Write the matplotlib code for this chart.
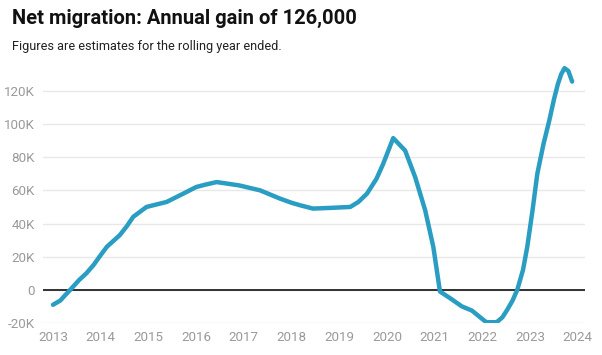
import numpy as np
import matplotlib.pyplot as plt

# rolling-year net migration (thousands)
years = [2013.0, 2013.15, 2013.36, 2013.55, 2013.7, 2013.85, 2014.0, 2014.13, 2014.4,
         2014.55, 2014.68, 2014.96, 2015.38, 2015.66, 2016.0, 2016.2, 2016.43, 2016.9,
         2017.34, 2017.76, 2018.0, 2018.18, 2018.45, 2018.87, 2019.23, 2019.4, 2019.58,
         2019.78, 2019.92, 2020.13, 2020.38, 2020.59, 2020.8, 2020.97, 2021.11, 2021.32,
         2021.57, 2021.78, 2021.95, 2022.08, 2022.3, 2022.42, 2022.52, 2022.63, 2022.73,
         2022.85, 2022.94, 2023.05, 2023.15, 2023.28, 2023.4, 2023.5, 2023.58, 2023.65,
         2023.72, 2023.8, 2023.88]
net_k = [-9, -6.5, 0, 6, 10, 15, 21, 26, 33,
         38.5, 44, 50, 53, 57, 62, 63.5, 65, 63,
         60, 55, 52.5, 51, 49, 49.5, 50, 53, 58,
         67, 76, 91.5, 84, 68, 48, 26, -1, -5,
         -10, -12.5, -16.5, -19.5, -19.5, -16.5, -12, -6.5, 0,
         12, 26, 48, 70, 88, 102, 115, 124, 130,
         133.7, 132, 125.6]

yticks = [-20000, 0, 20000, 40000, 60000, 80000, 100000, 120000]
ytick_labels = ["-20K", "0", "20K", "40K", "60K", "80K", "100K", "120K"]
xticks = list(range(2013, 2025))

plt.rcParams['font.family'] = ['Roboto', 'DejaVu Sans']

fig = plt.figure(figsize=(6.02, 3.55), dpi=100)
ax = fig.add_axes([0.0714, 0.0901, 0.9004, 0.724])

ax.plot(years, np.array(net_k) * 1000, color='#2a9dc2', lw=3.2, solid_capstyle='round',
        solid_joinstyle='round', zorder=3)
ax.axhline(0, color='#222222', lw=1.3, zorder=2)

ax.set_xlim(2012.79, 2024.15)
ax.set_ylim(-20000, 135000)
ax.set_yticks(yticks)
ax.set_yticklabels(ytick_labels)
ax.set_xticks(xticks)
ax.grid(axis='y', color='#e8e8e8', lw=1)
ax.set_axisbelow(True)
for s in ax.spines.values():
    s.set_visible(False)
ax.tick_params(length=0, labelsize=9.6, colors='#9a9a9a')
ax.tick_params(axis='x', pad=6)
ax.tick_params(axis='y', pad=6)

fig.text(0.02, 0.948, "Net migration: Annual gain of 126,000", fontsize=14.5,
         fontweight='bold', color='#111111', va='center')
fig.text(0.02, 0.868, "Figures are estimates for the rolling year ended.", fontsize=9.2,
         color='#222222', va='center')

fig.savefig('out.png', dpi=100)
